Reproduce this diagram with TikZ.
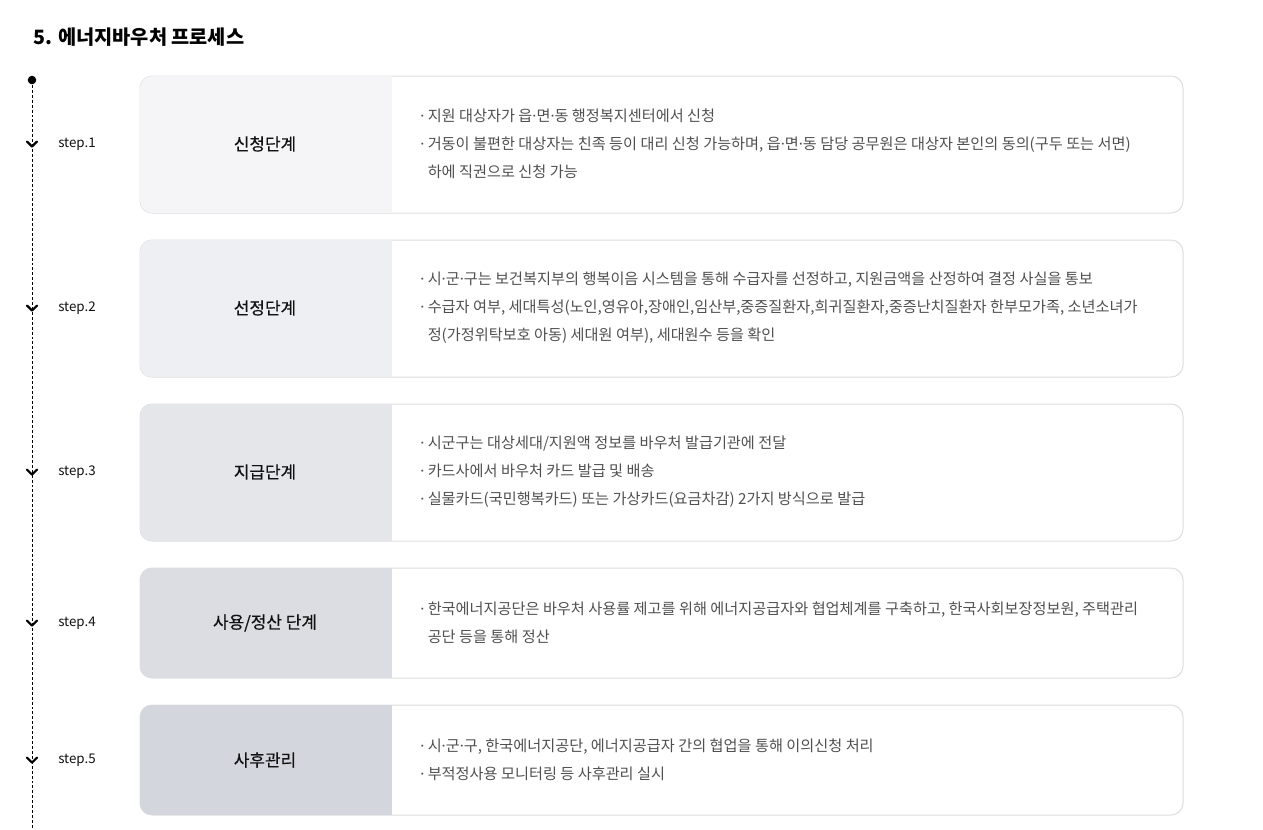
\documentclass[tikz,border=0pt]{standalone}
\usepackage{fontspec}
\setmainfont{Noto Sans CJK KR}
\newfontfamily\latinfont{Noto Sans}
\newfontfamily\medfont[FakeBold=0.5]{Noto Sans CJK KR}
\newcommand{\md}{{\latinfont ·}}
\definecolor{linegrey}{HTML}{DDDDDD}
\definecolor{bodygrey}{HTML}{505050}
\definecolor{labelblack}{HTML}{111111}
\definecolor{fillone}{HTML}{F5F5F7}
\definecolor{filltwo}{HTML}{EEEFF2}
\definecolor{fillthree}{HTML}{E5E6EA}
\definecolor{fillfour}{HTML}{DCDDE2}
\definecolor{fillfive}{HTML}{D3D6DD}
\begin{document}
\begin{tikzpicture}[x=0.75pt,y=-0.75pt,
  panel/.style={draw=linegrey, line width=0.75pt, fill=white, rounded corners=9pt},
  stage/.style={font=\medfont\fontsize{12.7}{14}\selectfont, text=labelblack, inner sep=0pt},
  bullets/.style={anchor=west, align=left, font=\fontsize{11.4}{21}\selectfont, text=bodygrey, inner sep=0pt},
  steplabel/.style={anchor=west, font=\fontsize{10}{12}\selectfont, text=labelblack, inner sep=0pt},
  chev/.style={line width=1.6pt, line cap=round, line join=round}]
\useasboundingbox[fill=white] (0,0) rectangle (1263,829);

\node[anchor=west, inner sep=0pt, font=\bfseries\fontsize{14.8}{16}\selectfont] (title) at (33,37) {5. 에너지바우처 프로세스};

% panels
\foreach \ya/\yb/\col in {76/213/fillone, 240/377/filltwo, 404/541/fillthree, 568/678/fillfour, 705/815/fillfive}{
  \draw[panel] (140,\ya) rectangle (1183,\yb);
  \begin{scope}
    \clip[rounded corners=9pt] (140,\ya) rectangle (1183,\yb);
    \fill[\col] (140,\ya) rectangle (392,\yb);
  \end{scope}
}

% timeline
\fill (32,80) circle (3.2pt) coordinate (start);
\coordinate (end) at (32,829);
\draw[line width=0.6pt, dash pattern=on 2.2pt off 1.5pt] (start) -- (end);

\foreach \n/\yc in {1/144, 2/308, 3/472, 4/623, 5/760}{
  \coordinate (k\n) at (32,\yc);
  \draw[chev, shift={(k\n)}] (-5,-2.5) -- (0,2.5) -- (5,-2.5);
  \node[steplabel] (st\n) at (58,\yc) {step.\n};
}

% stage names
\node[stage] (s1) at (265,144) {신청단계};
\node[stage] (s2) at (265,308) {선정단계};
\node[stage] (s3) at (265,472) {지급단계};
\node[stage] (s4) at (265,623) {사용/정산 단계};
\node[stage] (s5) at (265,760) {사후관리};

% details
\node[bullets] (d1) at (420,144) {\md{} 지원 대상자가 읍\md{}면\md{}동 행정복지센터에서 신청\\
  \md{} 거동이 불편한 대상자는 친족 등이 대리 신청 가능하며, 읍\md{}면\md{}동 담당 공무원은 대상자 본인의 동의(구두 또는 서면)\\
  \phantom{\md{} }하에 직권으로 신청 가능};
\node[bullets] (d2) at (420,308) {\md{} 시\md{}군\md{}구는 보건복지부의 행복이음 시스템을 통해 수급자를 선정하고, 지원금액을 산정하여 결정 사실을 통보\\
  \md{} 수급자 여부, 세대특성(노인,영유아,장애인,임산부,중증질환자,희귀질환자,중증난치질환자 한부모가족, 소년소녀가\\
  \phantom{\md{} }정(가정위탁보호 아동) 세대원 여부), 세대원수 등을 확인};
\node[bullets] (d3) at (420,472) {\md{} 시군구는 대상세대/지원액 정보를 바우처 발급기관에 전달\\
  \md{} 카드사에서 바우처 카드 발급 및 배송\\
  \md{} 실물카드(국민행복카드) 또는 가상카드(요금차감) 2가지 방식으로 발급};
\node[bullets] (d4) at (420,623) {\md{} 한국에너지공단은 바우처 사용률 제고를 위해 에너지공급자와 협업체계를 구축하고, 한국사회보장정보원, 주택관리\\
  \phantom{\md{} }공단 등을 통해 정산};
\node[bullets] (d5) at (420,760) {\md{} 시\md{}군\md{}구, 한국에너지공단, 에너지공급자 간의 협업을 통해 이의신청 처리\\
  \md{} 부적정사용 모니터링 등 사후관리 실시};
\end{tikzpicture}
\end{document}
